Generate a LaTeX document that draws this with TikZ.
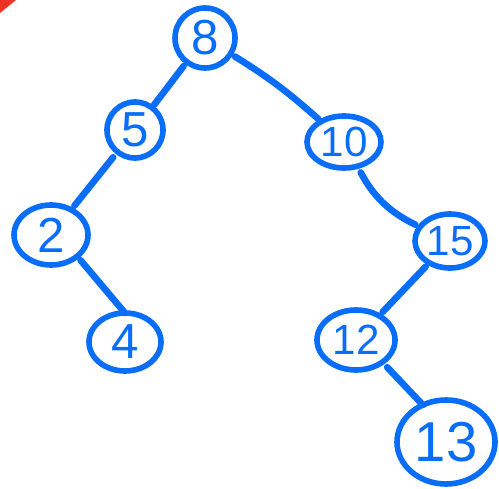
\documentclass[tikz,border=0pt]{standalone}
\usepackage{fontspec}
\setsansfont{Liberation Sans}
\usepackage{tikz}
\usetikzlibrary{shapes.geometric}
\definecolor{treeblue}{RGB}{8,110,250}
\definecolor{markred}{RGB}{238,52,36}
\tikzset{
  btkey/.style={ellipse, draw=treeblue, line width=3.2pt, inner sep=0pt,
                outer sep=0pt, text=treeblue,
                font=\fontsize{28}{28}\selectfont\sffamily},
  btpair/.style={btkey, font=\fontsize{24}{24}\selectfont\sffamily},
  btedge/.style={draw=treeblue, line width=3.8pt, line cap=round},
  btmark/.style={fill=markred}
}
\begin{document}
\begin{tikzpicture}[
    x=0.2mm, y=-0.2mm
]
  \useasboundingbox (0,0) rectangle (499,489);
  \fill[btmark] (0,0) -- (16,0) -- (0,13) -- cycle;
  % keys of the tree
  \node[btkey, minimum width=12mm, minimum height=12mm] (k8) at (205,38) {8};
  \node[btkey, minimum width=11.2mm, minimum height=11.2mm] (k5) at (135,130) {5};
  \node[btpair, minimum width=14.8mm, minimum height=10.4mm] (k10) at (344,142) {10};
  \node[btkey, minimum width=14.8mm, minimum height=12mm] (k2) at (51,235) {2};
  \node[btpair, minimum width=14mm, minimum height=10.8mm] (k15) at (450,241) {15};
  \node[btkey, minimum width=14.4mm, minimum height=11.6mm] (k4) at (125,342) {4};
  \node[btpair, minimum width=15.6mm, minimum height=12mm] (k12) at (356,340) {12};
  \node[btkey, minimum width=19.6mm, minimum height=16.8mm,
        font=\fontsize{32}{32}\selectfont\sffamily] (k13) at (446,442) {13};
  % links, drawn a bit short of the keys
  \draw[btedge, shorten <=3pt, shorten >=2pt] (k8) -- (k5);
  \draw[btedge, shorten <=3pt, shorten >=2pt] (k8) to[bend left=5] (k10);
  \draw[btedge, shorten <=4pt, shorten >=3pt] (k5) -- (k2);
  \draw[btedge, shorten <=3pt] (k2.south east) -- (k4.north);
  \draw[btedge, shorten <=4pt, shorten >=3pt] (k10) to[bend right=18] (k15);
  \draw[btedge, shorten <=3pt, shorten >=3pt] (k15) -- (k12);
  \draw[btedge, shorten <=4pt] (k12.-40) -- (k13.122);
\end{tikzpicture}
\end{document}
